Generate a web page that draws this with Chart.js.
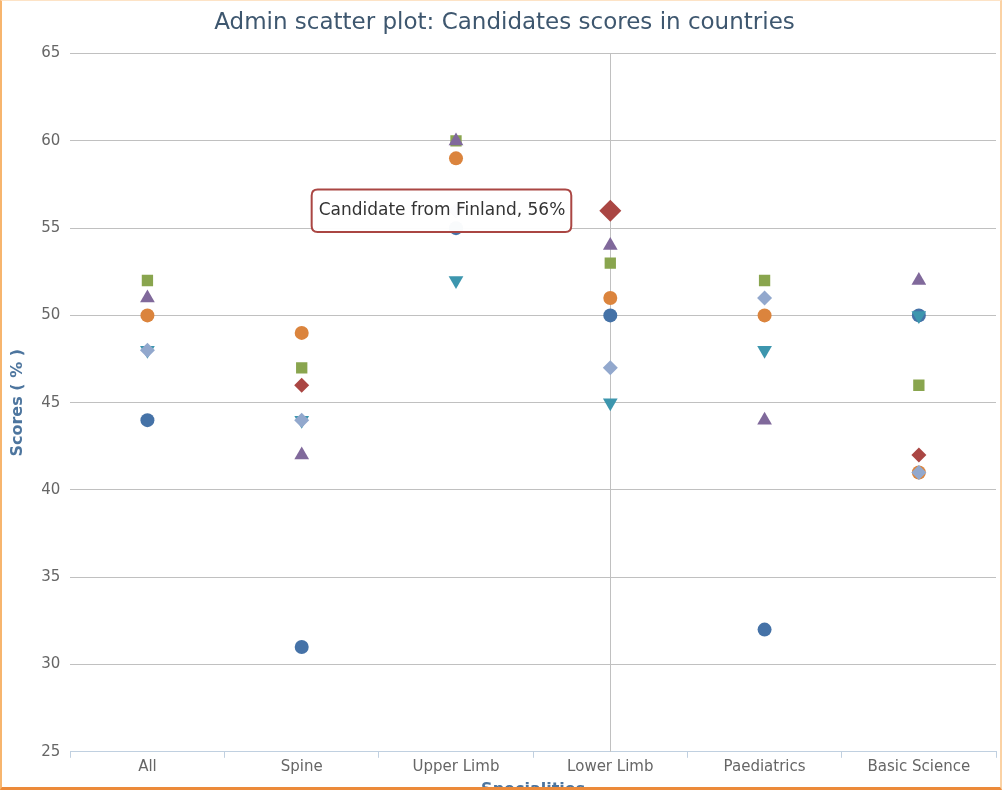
<!DOCTYPE html>
<html lang="en">
<head>
    <meta charset="UTF-8">
    <title>Admin scatter plot</title>
    <script src="https://cdn.jsdelivr.net/npm/chart.js"></script>
    <style>
        body {
            margin: 0;
            background: #fff;
            font-family: "DejaVu Sans", sans-serif;
        }

        .frame {
            position: absolute;
            left: 0;
            top: 0;
            width: 998px;
            height: 786px;
            border-left: 2px solid #f7b56e;
            border-right: 2px solid #fbd2a4;
            border-top: 1px solid #fde3c6;
            border-bottom: 3px solid #ec8a3a;
            overflow: hidden;
        }

        .chart-box {
            position: absolute;
            left: 0;
            top: 0;
            width: 1005px;
            height: 802px;
        }
    </style>
</head>
<body>
    <div class="frame">
        <div class="chart-box">
            <canvas id="scoreChart"></canvas>
        </div>
    </div>

    <script>
        const specialities = ['All', 'Spine', 'Upper Limb', 'Lower Limb', 'Paediatrics', 'Basic Science'];
        const yTicks = [25, 30, 35, 40, 45, 50, 55, 60, 65];

        const countries = ['UK', 'Finland', 'Germany', 'Sweden', 'Norway', 'Denmark', 'Netherlands'];
        const ukScores = [44, 31, 55, 50, 32, 50];
        const finlandScores = [null, 46, 56, 56, null, 42];
        const germanyScores = [52, 47, 60, 53, 52, 46];
        const swedenScores = [51, 42, 60, 54, 44, 52];
        const norwayScores = [48, 44, 52, 45, 48, 50];
        const denmarkScores = [50, 49, 59, 51, 50, 41];
        const netherlandsScores = [48, 44, 56, 47, 51, 41];

        const seriesScores = [ukScores, finlandScores, germanyScores, swedenScores, norwayScores, denmarkScores, netherlandsScores];
        const colors = ['#4572A7', '#AA4643', '#89A54E', '#80699B', '#3D96AE', '#DB843D', '#92A8CD'];
        const symbols = ['circle', 'rectRot', 'rect', 'triangle', 'triangle', 'circle', 'rectRot'];
        const rotations = [0, 0, 0, 0, 180, 0, 0];
        const radii = [7, 7.5, 8, 8.5, 8.5, 7, 7.5];

        const datasets = seriesScores.map((scores, i) => ({
            label: countries[i],
            data: scores,
            showLine: false,
            backgroundColor: colors[i],
            borderColor: colors[i],
            hoverBackgroundColor: colors[i],
            hoverBorderColor: colors[i],
            borderWidth: 0,
            pointStyle: symbols[i],
            rotation: rotations[i],
            pointRadius: radii[i],
            pointHoverRadius: 11,
            pointHoverBorderWidth: 0,
            order: -i
        }));

        // vertical crosshair through the hovered point
        const crosshair = {
            id: 'crosshair',
            beforeDatasetsDraw(chart) {
                const active = chart.getActiveElements();
                if (!active.length) return;
                const x = Math.round(active[0].element.x) + 0.5;
                const area = chart.chartArea;
                const ctx = chart.ctx;
                ctx.save();
                ctx.strokeStyle = '#C0C0C0';
                ctx.lineWidth = 1;
                ctx.beginPath();
                ctx.moveTo(x, area.top);
                ctx.lineTo(x, area.bottom);
                ctx.stroke();
                ctx.restore();
            }
        };

        Chart.Tooltip.positioners.leftOfPoint = function (elements) {
            if (!elements.length) return false;
            return { x: elements[0].element.x - 39, y: elements[0].element.y };
        };

        const chart = new Chart(document.getElementById('scoreChart'), {
            type: 'line',
            data: { labels: specialities, datasets: datasets },
            plugins: [crosshair],
            options: {
                responsive: true,
                maintainAspectRatio: false,
                animation: false,
                layout: { padding: { left: 2, right: 2, top: 2, bottom: 0 } },
                plugins: {
                    legend: { display: false },
                    title: {
                        display: true,
                        text: 'Admin scatter plot: Candidates scores in countries',
                        color: '#3E576F',
                        font: { family: 'DejaVu Sans', size: 23, weight: 'normal' },
                        padding: { top: 6, bottom: 17 }
                    },
                    tooltip: {
                        position: 'leftOfPoint',
                        xAlign: 'right',
                        yAlign: 'center',
                        caretSize: 0,
                        caretPadding: 0,
                        backgroundColor: 'rgba(255,255,255,0.97)',
                        borderColor: '#AA4643',
                        borderWidth: 2,
                        cornerRadius: 6,
                        padding: { left: 7, right: 6, top: 11, bottom: 11 },
                        bodyColor: '#333',
                        bodyFont: { family: 'DejaVu Sans', size: 17 },
                        displayColors: false,
                        callbacks: {
                            title: () => '',
                            label: ctx => 'Candidate from ' + ctx.dataset.label + ', ' + ctx.parsed.y + '%'
                        }
                    }
                },
                scales: {
                    x: {
                        offset: true,
                        grid: {
                            offset: true,
                            drawOnChartArea: false,
                            drawTicks: true,
                            tickLength: 6,
                            color: '#C0D0E0'
                        },
                        border: { color: '#C0D0E0' },
                        ticks: {
                            color: '#666',
                            font: { family: 'DejaVu Sans', size: 15 },
                            padding: 0
                        },
                        title: {
                            display: true,
                            text: 'Specialities',
                            color: '#4d759e',
                            font: { family: 'DejaVu Sans', size: 16, weight: 'bold' },
                            padding: { top: 4 }
                        }
                    },
                    y: {
                        min: yTicks[0],
                        max: yTicks[yTicks.length - 1],
                        afterBuildTicks: axis => {
                            axis.ticks = yTicks.map(v => ({ value: v }));
                        },
                        grid: {
                            color: '#C0C0C0',
                            drawTicks: false
                        },
                        border: { display: false },
                        ticks: {
                            color: '#666',
                            font: { family: 'DejaVu Sans', size: 15 },
                            padding: 10
                        },
                        title: {
                            display: true,
                            text: 'Scores ( % )',
                            color: '#4d759e',
                            font: { family: 'DejaVu Sans', size: 16, weight: 'bold' },
                            padding: { bottom: 4 }
                        }
                    }
                }
            }
        });

        const hovered = [{ datasetIndex: 1, index: 3 }];
        const el = chart.getDatasetMeta(1).data[3];
        chart.tooltip.setActiveElements(hovered, { x: el.x, y: el.y });
        chart.setActiveElements(hovered);
        chart.update();
    </script>
</body>
</html>
